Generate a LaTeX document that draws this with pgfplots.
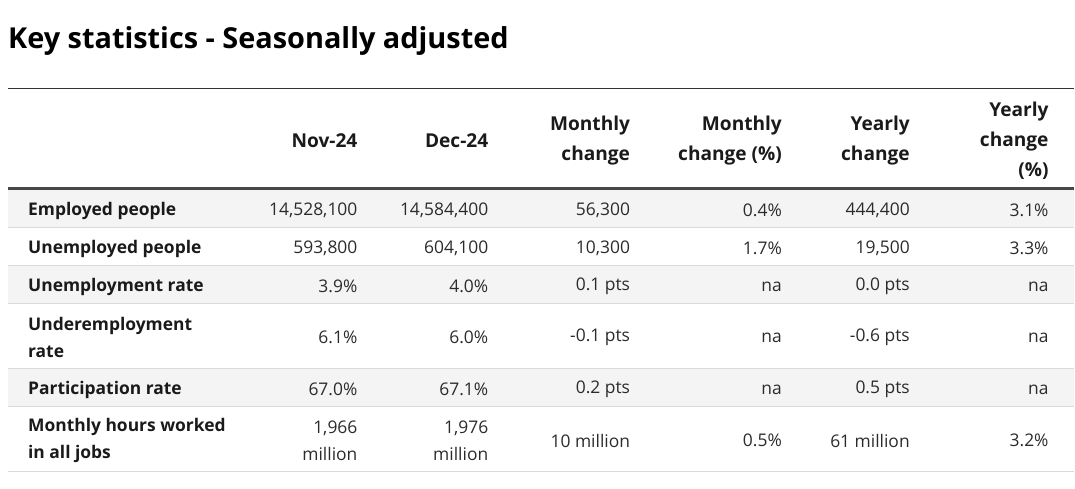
\documentclass[border=0pt]{standalone}
\usepackage{pgfplots}
\pgfplotsset{compat=1.18}
\usepackage{pgfplotstable}
\usepackage{fontspec}
\IfFontExistsTF{Open Sans SemiBold}
  {\setmainfont{Open Sans}[BoldFont={Open Sans SemiBold}]}
  {\setmainfont{Open Sans}}
\definecolor{rowgray}{HTML}{F4F4F4}
\definecolor{sepgray}{HTML}{DADADA}
\definecolor{rulecol}{HTML}{333333}
\definecolor{thickrule}{HTML}{474747}
\definecolor{txt}{HTML}{2B2B2B}
\definecolor{hdr}{HTML}{1A1A1A}
\newcommand{\bodyfont}{\fontsize{17.5}{27}\selectfont}
\newcommand{\hdrfont}{\fontsize{19.2}{30}\selectfont\bfseries}

\pgfplotstableread[col sep=semicolon]{
x;y;t
358;139;Nov-24
489;139;Dec-24
631;139;{Monthly\\change}
783;139;{Monthly\\change (\%)}
911;139;{Yearly\\change}
1050;139;{Yearly\\change\\(\%)}
}\headers

\pgfplotstableread[col sep=semicolon]{
x;y;t
28;209;Employed people
28;247;Unemployed people
28;285;Unemployment rate
28;336;{Underemployment\\rate}
28;388;Participation rate
28;439;{Monthly hours worked\\in all jobs}
}\rowlabels

\pgfplotstableread[col sep=semicolon]{
x;y;t
358;209;14,528,100
489;209;14,584,400
631;209;56,300
783;209;0.4\%
911;209;444,400
1050;209;3.1\%
358;247;593,800
489;247;604,100
631;247;10,300
783;247;1.7\%
911;247;19,500
1050;247;3.3\%
358;285;3.9\%
489;285;4.0\%
631;285;0.1 pts
783;285;na
911;285;0.0 pts
1050;285;na
358;336;6.1\%
489;336;6.0\%
631;336;-0.1 pts
783;336;na
911;336;-0.6 pts
1050;336;na
358;388;67.0\%
489;388;67.1\%
631;388;0.2 pts
783;388;na
911;388;0.5 pts
1050;388;na
358;439;{1,966\\million}
489;439;{1,976\\million}
631;439;10 million
783;439;0.5\%
911;439;61 million
1050;439;3.2\%
}\cells

\begin{document}
\begin{tikzpicture}
\begin{axis}[
  width=1075bp, height=489bp, scale only axis,
  xmin=0, xmax=1075, ymin=0, ymax=489, y dir=reverse,
  hide axis, clip=false,
  every axis plot/.append style={only marks, mark=*, mark size=0.1pt,
     mark options={draw opacity=0, fill opacity=0},
     nodes near coords, point meta=explicit symbolic},
]
\path (axis cs:0,0) rectangle (axis cs:1075,489);
% row shading
\fill[rowgray] (axis cs:8,190) rectangle (axis cs:1075,228);
\fill[rowgray] (axis cs:8,266) rectangle (axis cs:1075,304);
\fill[rowgray] (axis cs:8,369) rectangle (axis cs:1075,407);
% separators
\draw[sepgray, line width=1.2bp] (axis cs:8,228) -- (axis cs:1075,228);
\draw[sepgray, line width=1.2bp] (axis cs:8,266) -- (axis cs:1075,266);
\draw[sepgray, line width=1.2bp] (axis cs:8,304) -- (axis cs:1075,304);
\draw[sepgray, line width=1.2bp] (axis cs:8,369) -- (axis cs:1075,369);
\draw[sepgray, line width=1.2bp] (axis cs:8,407) -- (axis cs:1075,407);
\draw[sepgray, line width=1.2bp] (axis cs:8,472) -- (axis cs:1075,472);
\draw[rulecol, line width=1.2bp] (axis cs:8,88.5) -- (axis cs:1075,88.5);
\draw[thickrule, line width=2.6bp] (axis cs:8,189) -- (axis cs:1075,189);
% title
\node[anchor=base west, inner sep=0pt, text=black, font=\fontsize{29}{33}\selectfont\bfseries]
  at (axis cs:8,49) {Key statistics - Seasonally adjusted};

\addplot[every node near coord/.append style={anchor=east, align=right, inner sep=0pt, yshift=-2bp, text=hdr, text opacity=1, fill opacity=1, draw opacity=1, font=\hdrfont}]
  table[x=x, y=y, meta=t]{\headers};
\addplot[every node near coord/.append style={anchor=west, align=left, inner sep=0pt, yshift=-2bp, text=hdr, text opacity=1, fill opacity=1, draw opacity=1, font=\bodyfont\bfseries}]
  table[x=x, y=y, meta=t]{\rowlabels};
\addplot[every node near coord/.append style={anchor=east, align=right, inner sep=0pt, yshift=-2bp, text=txt, text opacity=1, fill opacity=1, draw opacity=1, font=\bodyfont}]
  table[x=x, y=y, meta=t]{\cells};
\end{axis}
\end{tikzpicture}
\end{document}
